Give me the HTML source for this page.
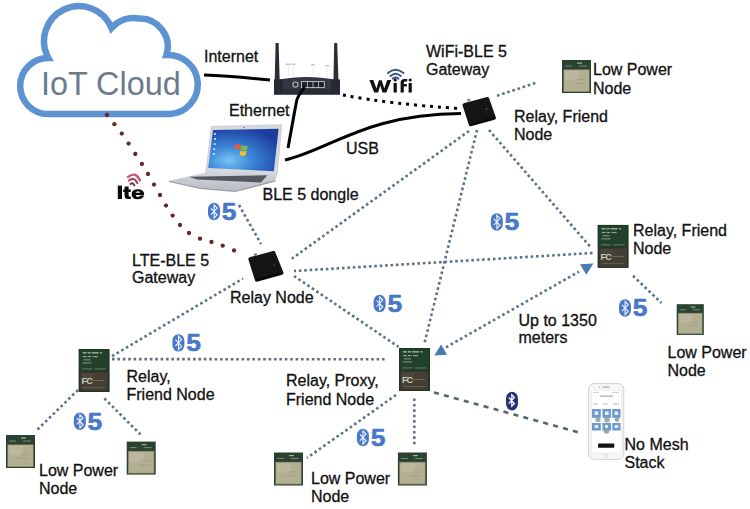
<!DOCTYPE html>
<html><head><meta charset="utf-8">
<style>
html,body{margin:0;padding:0;background:#fff;width:750px;height:509px;overflow:hidden}
svg{position:absolute;left:0;top:0;display:block}
text{font-family:"Liberation Sans",sans-serif}
.t{font-size:16px;fill:#111;stroke:#111;stroke-width:0.3}
</style></head><body>
<svg width="750" height="509" viewBox="0 0 750 509">
<!-- Cloud -->
<path d="M48.4 58 A35 35 0 1 1 111.5 28 A30 30 0 0 1 139 18.5 A28 28 0 0 1 166.4 55 A28 28 0 1 1 170 114 L48 114 A28 28 0 0 1 48.4 58 Z" fill="#fff" stroke="#5e93d2" stroke-width="6.5" stroke-linejoin="miter"/>
<text x="40.9" y="95.2" font-size="32.4" fill="#6c7b8a">IoT Cloud</text>

<!-- red dotted LTE line -->
<g fill="#652626"><circle cx="107" cy="115" r="2.15"/><circle cx="114.4" cy="124.2" r="2.15"/><circle cx="121.8" cy="133.6" r="2.15"/><circle cx="128.6" cy="143.6" r="2.15"/><circle cx="135.3" cy="154" r="2.15"/><circle cx="141.9" cy="164" r="2.15"/><circle cx="148" cy="174" r="2.15"/><circle cx="154" cy="184.6" r="2.15"/><circle cx="160" cy="195" r="2.15"/><circle cx="166" cy="205.6" r="2.15"/><circle cx="172.6" cy="215.6" r="2.15"/><circle cx="180" cy="225" r="2.15"/><circle cx="189" cy="233" r="2.15"/><circle cx="200" cy="238.7" r="2.15"/><circle cx="211.5" cy="242" r="2.15"/><circle cx="222.7" cy="245.7" r="2.15"/><circle cx="234" cy="250.4" r="2.15"/></g>

<!-- black cables -->
<path d="M204 75 Q230 76 270 80" fill="none" stroke="#000" stroke-width="3"/>
<path d="M285 160 C330 150 365 114 461 113.5" fill="none" stroke="#000" stroke-width="3"/>
<path d="M343 95 Q390 104 459 108.5" fill="none" stroke="#000" stroke-width="3" stroke-dasharray="3 5"/>

<!-- blue dotted lines -->
<g fill="none" stroke="#5a7389" stroke-width="2.6" stroke-dasharray="2.6 2.8">
  <path d="M497 95.8 L536 82.8"/>
  <path d="M469 131 L290 260"/>
  <path d="M477 130 L424 345"/>
  <path d="M489 130 L590.3 246.8"/>
  <path d="M592.5 253 L294 271"/>
  <path d="M239 205 L261 244"/>
  <path d="M294 276 L398.5 346.8"/>
  <path d="M112 356.2 L243 278.5"/>
  <path d="M112 359.1 L385 359.3"/>
  <path d="M633 275.8 L661.5 303"/>
  <path d="M446 347.3 L579 271.6"/>
  <path d="M78 390 L37 430"/>
  <path d="M104.4 398.4 L140.4 434.4"/>
  <path d="M396 395 L307 458"/>
  <path d="M414.3 398.5 L414.3 444.5"/>
</g>
<path d="M434 392.4 L583 433.6" fill="none" stroke="#536474" stroke-width="2.6" stroke-dasharray="5 5.3"/>
<polygon points="580,264.2 593.4,263.5 586.3,274.8" fill="#4a7ab0"/>
<polygon points="434.2,355.5 441.2,344.5 447.1,354.8" fill="#4a7ab0"/>

<!-- Router -->
<g>
  <polygon points="275.6,43 278.6,43 279.8,84 274.6,84" fill="#2b2d38"/>
  <polygon points="334.2,43 337.2,43 338.6,84 333.4,84" fill="#2b2d38"/>
  <g stroke="#cfd0cc" stroke-width="0.5" fill="none"><path d="M288.5 67 V76 M293 67 V76 M313 67 V76 M327 68 V76"/></g>
  <g fill="#c8c8c4"><rect x="286" y="63.5" width="5" height="1.6"/><rect x="292" y="63.5" width="3.5" height="1.6"/><rect x="311" y="64" width="4" height="1.6"/><rect x="325" y="65" width="4.5" height="1.4"/></g>
  <path d="M274 80.5 Q306 73.5 340 80.5 L340 94.6 L274 94.6 Z" fill="#343644"/>
  <rect x="274" y="79.5" width="9" height="15.1" fill="#262833"/>
  <rect x="331" y="79.5" width="9" height="15.1" fill="#262833"/>
  <rect x="283" y="89" width="48" height="5.6" fill="#2a2c37"/>
  <circle cx="295.5" cy="84.6" r="2.6" fill="#30323c" stroke="#b8bcc4" stroke-width="1.1"/>
  <rect x="301.5" y="81.6" width="22.8" height="6" fill="#20222a" stroke="#c4c8ce" stroke-width="0.9"/>
  <g fill="#c4c8ce"><rect x="307" y="81.6" width="0.8" height="6"/><rect x="312.6" y="81.6" width="0.8" height="6"/><rect x="318.2" y="81.6" width="0.8" height="6"/></g>
</g>

<path d="M304.5 87 L298.8 95.5 Q296.3 99.5 295.8 105 L288 148" fill="none" stroke="#000" stroke-width="3"/>
<!-- Wifi logo -->
<g fill="none" stroke="#3a5684" stroke-width="2" stroke-linecap="round">
  <path d="M388 73 Q395.5 66.5 403.5 73"/>
  <path d="M390.5 76 Q395.5 71.5 400.8 76"/>
  <path d="M392.8 78.6 Q395.5 76.3 398.4 78.6"/>
</g>
<g fill="#111">
  <path d="M369.4 80 L373.3 80 L376.4 88.6 L378.9 80.3 L381.7 80.3 L384.2 88.6 L387.3 80 L391.2 80 L386.4 92.5 L382.5 92.5 L380.3 85.5 L378.1 92.5 L374.2 92.5 Z"/>
  <rect x="393.6" y="83" width="3.2" height="9.5"/>
  <circle cx="395.2" cy="80" r="1.6"/>
  <path d="M400.6 92.5 L400.6 82.5 Q400.6 79 404.6 79 L407.2 79 L407.2 81.6 L405.2 81.6 Q403.8 81.6 403.8 83 L403.8 84 L406.8 84 L406.8 86.4 L403.8 86.4 L403.8 92.5 Z"/>
  <rect x="408.6" y="83" width="3.2" height="9.5"/>
  <circle cx="410.2" cy="80" r="1.6"/>
</g>

<!-- Laptop -->
<g>
  <defs>
    <radialGradient id="scr" cx="0.3" cy="0.75" r="0.8">
      <stop offset="0" stop-color="#78c4f2"/>
      <stop offset="0.4" stop-color="#3b86d8"/>
      <stop offset="1" stop-color="#1d3e9e"/>
    </radialGradient>
    <linearGradient id="base" x1="0" y1="0" x2="0" y2="1">
      <stop offset="0" stop-color="#d2d5db"/>
      <stop offset="1" stop-color="#b9bcc3"/>
    </linearGradient>
  </defs>
  <polygon points="211.4,126.4 281.8,124.8 277,175.2 205.8,172.8" fill="#d5d8de" stroke="#b8bcc4" stroke-width="0.6"/>
  <polygon points="213,130 278.6,128.8 273.8,171.2 208.2,168" fill="url(#scr)"/>
  <circle cx="244" cy="127.6" r="0.7" fill="#333"/>
  <g transform="translate(241,149.6)">
    <path d="M-6 -5 Q-3 -6 0 -4.5 L-1 0 Q-4 -1.5 -7 -0.5 Z" fill="#e8583a"/>
    <path d="M0.6 -4.3 Q3.5 -3 6.8 -4.2 L5.8 0.3 Q3 1.2 -0.4 0 Z" fill="#7cc040"/>
    <path d="M-7.2 0.3 Q-4.2 -0.6 -1.2 0.9 L-2.2 5.2 Q-5 3.8 -8.2 4.8 Z" fill="#3aa0e8"/>
    <path d="M-0.6 1 Q2.6 2.2 5.6 1 L4.6 5.6 Q1.6 6.8 -1.6 5.4 Z" fill="#f4c020"/>
  </g>
  <polygon points="169,180.8 205.8,172.8 277,175.2 275.4,180 235.4,190.4 200,187.5" fill="url(#base)"/>
  <polygon points="189,176.8 267.4,175.2 261,182.6 197,179.5" fill="#55585f"/>
  <g fill="#d8e8f8" opacity="0.8"><rect x="214" y="133" width="2" height="2"/><rect x="214" y="138" width="2" height="2"/><rect x="213.6" y="143" width="2" height="2"/><rect x="213.2" y="148" width="2" height="2"/><rect x="212.8" y="153" width="2" height="2"/></g>
  <polygon points="169,180.8 200,187.5 235.4,190.4 275.4,180 275.4,181.6 235.4,192 200,189 169,182" fill="#9a9ea6"/>
</g>

<!-- Lte logo -->
<g fill="none" stroke-linecap="round">
  <path d="M128 177 Q135.5 170.8 140 180.5" stroke="#c45a78" stroke-width="2.4"/>
  <path d="M129 180.5 Q134.2 176.3 137.3 183" stroke="#a8485f" stroke-width="2.2"/>
  <path d="M130.5 184 Q133 182 134.4 185.4" stroke="#7a3044" stroke-width="2"/>
</g>
<g fill="#0a0a0a">
  <rect x="117.8" y="185.6" width="4.2" height="13.4"/>
  <path d="M124.6 186.5 L128.6 186.5 L128.6 189.5 L130.8 189.5 L130.8 192 L128.6 192 L128.6 195.6 Q128.6 196.6 129.6 196.6 L130.8 196.6 L130.8 199 L128 199 Q124.6 199 124.6 196 L124.6 192 L123.2 192 L123.2 189.5 L124.6 189.5 Z"/>
  <path d="M144.2 195.6 Q143 199.3 138 199.3 Q131.6 199.3 131.6 194.2 Q131.6 189.2 137.8 189.2 Q144.4 189.2 144.2 195 L135.6 195 Q136 197 138 197 Q139.6 197 140.3 195.6 Z M135.6 192.8 L140.2 192.8 Q140 191.3 137.9 191.3 Q136 191.3 135.6 192.8 Z" fill-rule="evenodd"/>
</g>

<!-- boxes -->
<g><polygon points="464.2,105 487.5,98.7 494.3,118 470.5,124.6" fill="#151515" stroke="#151515" stroke-width="3.4" stroke-linejoin="round"/><path d="M470.5 124.6 L494.3 118" stroke="#080808" stroke-width="2" fill="none"/>
<rect x="467.2" y="99" width="3" height="2.4" fill="#9a9080" transform="rotate(-15 468.5 100)"/><circle cx="486.5" cy="109" r="0.8" fill="#777"/></g>
<g><polygon points="250,259 273.6,252.6 281.8,273 256.6,280" fill="#151515" stroke="#151515" stroke-width="3.4" stroke-linejoin="round"/><path d="M256.6 280 L281.8 273" stroke="#080808" stroke-width="2" fill="none"/>
<rect x="254" y="253.5" width="3" height="2.6" fill="#8a8070" transform="rotate(-14 255 255)"/><circle cx="274" cy="265" r="0.7" fill="#666"/></g>

<!-- modules -->
<g transform="translate(562,60)">
    <rect x="0" y="0" width="29" height="33" fill="#2a4230"/>
    <rect x="1.3" y="9.3" width="26.4" height="22.7" fill="#7d7a62"/>
    <rect x="2" y="10" width="25" height="21.3" fill="#b3af93"/>
    <rect x="3" y="11" width="14" height="9" fill="#bbb79c"/>
    <rect x="14" y="19" width="9" height="0.8" fill="#a29c80"/>
    <rect x="12" y="23" width="11" height="0.8" fill="#a29c80"/>
    <rect x="15" y="2.5" width="5" height="1.2" fill="#a6b4a8"/>
    <rect x="3" y="5.6" width="7" height="0.9" fill="#7f9484"/>
    <rect x="17" y="5.6" width="8" height="0.9" fill="#7f9484"/>
  </g>
<g transform="translate(676.7,304.2) scale(0.935,0.93)">
    <rect x="0" y="0" width="29" height="33" fill="#2a4230"/>
    <rect x="1.3" y="9.3" width="26.4" height="22.7" fill="#7d7a62"/>
    <rect x="2" y="10" width="25" height="21.3" fill="#b3af93"/>
    <rect x="3" y="11" width="14" height="9" fill="#bbb79c"/>
    <rect x="14" y="19" width="9" height="0.8" fill="#a29c80"/>
    <rect x="12" y="23" width="11" height="0.8" fill="#a29c80"/>
    <rect x="15" y="2.5" width="5" height="1.2" fill="#a6b4a8"/>
    <rect x="3" y="5.6" width="7" height="0.9" fill="#7f9484"/>
    <rect x="17" y="5.6" width="8" height="0.9" fill="#7f9484"/>
  </g>
<g transform="translate(6,435)">
    <rect x="0" y="0" width="29" height="33" fill="#2a4230"/>
    <rect x="1.3" y="9.3" width="26.4" height="22.7" fill="#7d7a62"/>
    <rect x="2" y="10" width="25" height="21.3" fill="#b3af93"/>
    <rect x="3" y="11" width="14" height="9" fill="#bbb79c"/>
    <rect x="14" y="19" width="9" height="0.8" fill="#a29c80"/>
    <rect x="12" y="23" width="11" height="0.8" fill="#a29c80"/>
    <rect x="15" y="2.5" width="5" height="1.2" fill="#a6b4a8"/>
    <rect x="3" y="5.6" width="7" height="0.9" fill="#7f9484"/>
    <rect x="17" y="5.6" width="8" height="0.9" fill="#7f9484"/>
  </g>
<g transform="translate(126.7,441.6)">
    <rect x="0" y="0" width="29" height="33" fill="#2a4230"/>
    <rect x="1.3" y="9.3" width="26.4" height="22.7" fill="#7d7a62"/>
    <rect x="2" y="10" width="25" height="21.3" fill="#b3af93"/>
    <rect x="3" y="11" width="14" height="9" fill="#bbb79c"/>
    <rect x="14" y="19" width="9" height="0.8" fill="#a29c80"/>
    <rect x="12" y="23" width="11" height="0.8" fill="#a29c80"/>
    <rect x="15" y="2.5" width="5" height="1.2" fill="#a6b4a8"/>
    <rect x="3" y="5.6" width="7" height="0.9" fill="#7f9484"/>
    <rect x="17" y="5.6" width="8" height="0.9" fill="#7f9484"/>
  </g>
<g transform="translate(274,452.5)">
    <rect x="0" y="0" width="29" height="33" fill="#2a4230"/>
    <rect x="1.3" y="9.3" width="26.4" height="22.7" fill="#7d7a62"/>
    <rect x="2" y="10" width="25" height="21.3" fill="#b3af93"/>
    <rect x="3" y="11" width="14" height="9" fill="#bbb79c"/>
    <rect x="14" y="19" width="9" height="0.8" fill="#a29c80"/>
    <rect x="12" y="23" width="11" height="0.8" fill="#a29c80"/>
    <rect x="15" y="2.5" width="5" height="1.2" fill="#a6b4a8"/>
    <rect x="3" y="5.6" width="7" height="0.9" fill="#7f9484"/>
    <rect x="17" y="5.6" width="8" height="0.9" fill="#7f9484"/>
  </g>
<g transform="translate(397.9,452.5)">
    <rect x="0" y="0" width="29" height="33" fill="#2a4230"/>
    <rect x="1.3" y="9.3" width="26.4" height="22.7" fill="#7d7a62"/>
    <rect x="2" y="10" width="25" height="21.3" fill="#b3af93"/>
    <rect x="3" y="11" width="14" height="9" fill="#bbb79c"/>
    <rect x="14" y="19" width="9" height="0.8" fill="#a29c80"/>
    <rect x="12" y="23" width="11" height="0.8" fill="#a29c80"/>
    <rect x="15" y="2.5" width="5" height="1.2" fill="#a6b4a8"/>
    <rect x="3" y="5.6" width="7" height="0.9" fill="#7f9484"/>
    <rect x="17" y="5.6" width="8" height="0.9" fill="#7f9484"/>
  </g>
<g transform="translate(597.6,224.9)">
    <rect x="0" y="0" width="31" height="43" fill="#1c3624"/>
    <rect x="1" y="1" width="29" height="21" fill="#21412b"/>
    <rect x="4" y="3.2" width="4" height="1.3" fill="#a9bbaa"/><rect x="9" y="3.2" width="3" height="1.3" fill="#a9bbaa"/><rect x="13" y="3.2" width="7" height="1.3" fill="#a9bbaa"/><rect x="21.5" y="3.2" width="2" height="1.3" fill="#a9bbaa"/>
    <rect x="4" y="7" width="4" height="1.2" fill="#92a696"/><rect x="9" y="7" width="3.5" height="1.2" fill="#92a696"/><rect x="14" y="7" width="5" height="1.2" fill="#92a696"/>
    <rect x="5" y="10.3" width="7" height="1.1" fill="#7f9484"/>
    <rect x="4" y="13.4" width="9" height="1.1" fill="#7f9484"/>
    <rect x="3.5" y="19.5" width="10" height="0.9" fill="#6c8070"/><rect x="16" y="19.5" width="11" height="0.9" fill="#6c8070"/>
    <rect x="1" y="22.5" width="29" height="20" fill="#35322a"/>
    <rect x="2" y="23.5" width="27" height="18" fill="#443f35"/>
    <rect x="3" y="24.5" width="12" height="8" fill="#4c473c"/>
    <text x="3" y="35" font-size="9" font-weight="bold" fill="#cdc8b8" font-family="Liberation Sans" letter-spacing="-0.9">FC</text>
    <rect x="14" y="31" width="12" height="1" fill="#6e695c"/>
    <rect x="4" y="38" width="22" height="1" fill="#625d51"/>
  </g>
<g transform="translate(78.6,349)">
    <rect x="0" y="0" width="31" height="43" fill="#1c3624"/>
    <rect x="1" y="1" width="29" height="21" fill="#21412b"/>
    <rect x="4" y="3.2" width="4" height="1.3" fill="#a9bbaa"/><rect x="9" y="3.2" width="3" height="1.3" fill="#a9bbaa"/><rect x="13" y="3.2" width="7" height="1.3" fill="#a9bbaa"/><rect x="21.5" y="3.2" width="2" height="1.3" fill="#a9bbaa"/>
    <rect x="4" y="7" width="4" height="1.2" fill="#92a696"/><rect x="9" y="7" width="3.5" height="1.2" fill="#92a696"/><rect x="14" y="7" width="5" height="1.2" fill="#92a696"/>
    <rect x="5" y="10.3" width="7" height="1.1" fill="#7f9484"/>
    <rect x="4" y="13.4" width="9" height="1.1" fill="#7f9484"/>
    <rect x="3.5" y="19.5" width="10" height="0.9" fill="#6c8070"/><rect x="16" y="19.5" width="11" height="0.9" fill="#6c8070"/>
    <rect x="1" y="22.5" width="29" height="20" fill="#35322a"/>
    <rect x="2" y="23.5" width="27" height="18" fill="#443f35"/>
    <rect x="3" y="24.5" width="12" height="8" fill="#4c473c"/>
    <text x="3" y="35" font-size="9" font-weight="bold" fill="#cdc8b8" font-family="Liberation Sans" letter-spacing="-0.9">FC</text>
    <rect x="14" y="31" width="12" height="1" fill="#6e695c"/>
    <rect x="4" y="38" width="22" height="1" fill="#625d51"/>
  </g>
<g transform="translate(399,348)">
    <rect x="0" y="0" width="31" height="43" fill="#1c3624"/>
    <rect x="1" y="1" width="29" height="21" fill="#21412b"/>
    <rect x="4" y="3.2" width="4" height="1.3" fill="#a9bbaa"/><rect x="9" y="3.2" width="3" height="1.3" fill="#a9bbaa"/><rect x="13" y="3.2" width="7" height="1.3" fill="#a9bbaa"/><rect x="21.5" y="3.2" width="2" height="1.3" fill="#a9bbaa"/>
    <rect x="4" y="7" width="4" height="1.2" fill="#92a696"/><rect x="9" y="7" width="3.5" height="1.2" fill="#92a696"/><rect x="14" y="7" width="5" height="1.2" fill="#92a696"/>
    <rect x="5" y="10.3" width="7" height="1.1" fill="#7f9484"/>
    <rect x="4" y="13.4" width="9" height="1.1" fill="#7f9484"/>
    <rect x="3.5" y="19.5" width="10" height="0.9" fill="#6c8070"/><rect x="16" y="19.5" width="11" height="0.9" fill="#6c8070"/>
    <rect x="1" y="22.5" width="29" height="20" fill="#35322a"/>
    <rect x="2" y="23.5" width="27" height="18" fill="#443f35"/>
    <rect x="3" y="24.5" width="12" height="8" fill="#4c473c"/>
    <text x="3" y="35" font-size="9" font-weight="bold" fill="#cdc8b8" font-family="Liberation Sans" letter-spacing="-0.9">FC</text>
    <rect x="14" y="31" width="12" height="1" fill="#6e695c"/>
    <rect x="4" y="38" width="22" height="1" fill="#625d51"/>
  </g>

<!-- phone -->
<g>
  <rect x="588.6" y="383.6" width="35.2" height="75.8" rx="5.5" fill="#f6f6f6" stroke="#d2d2d2" stroke-width="1"/>
  <rect x="591.8" y="390.5" width="29.8" height="62.5" fill="#fff" stroke="#e2e2e2" stroke-width="0.5"/>
  <rect x="602.5" y="386.6" width="7" height="1" fill="#9a9a9a"/>
  <circle cx="599.5" cy="387.1" r="0.7" fill="#9a9a9a"/>
  <rect x="600" y="395.5" width="13" height="1.2" fill="#a8a8a8"/>
  <rect x="593" y="392" width="6" height="0.8" fill="#c8c8c8"/><rect x="612" y="392" width="7" height="0.8" fill="#c8c8c8"/>
  <rect x="593" y="403.5" width="5" height="0.9" fill="#b0b0b0"/><rect x="603" y="403.5" width="5" height="0.9" fill="#b0b0b0"/><rect x="613" y="403.5" width="6" height="0.9" fill="#b0b0b0"/>
  <g fill="#6b9ad0">
    <rect x="592" y="409" width="8.8" height="8.8"/><rect x="602.4" y="409" width="8.6" height="8.8"/><rect x="612.2" y="409" width="8.3" height="8.8"/>
    <rect x="592" y="423" width="8.8" height="7.5"/><rect x="602.4" y="423" width="8.6" height="7.5"/><rect x="612.2" y="423" width="8.3" height="7.5"/>
  </g>
  <g fill="#e8eef6"><rect x="594.6" y="411.4" width="3.6" height="3.6"/><rect x="605" y="411.4" width="3.6" height="3.6"/><rect x="614.6" y="411.4" width="3.6" height="3.6"/>
  <rect x="594.6" y="425" width="3.6" height="3"/><rect x="605" y="425" width="3" height="3"/><rect x="614.6" y="425" width="3.6" height="3"/></g>
  <g fill="#8d9ca6" opacity="0.85"><circle cx="598" cy="419.5" r="2.6"/><circle cx="607" cy="419.8" r="2.8"/><circle cx="617" cy="419.5" r="2.4"/><circle cx="606.5" cy="431" r="2.8"/></g>
  <rect x="598" y="443.4" width="16.3" height="4.4" rx="1" fill="#111"/>
  <circle cx="606" cy="456" r="1.8" fill="none" stroke="#c8c8c8" stroke-width="0.6"/>
</g>
<!-- bluetooth navy -->
<g>
  <rect x="506" y="391.8" width="12" height="18.8" rx="6" ry="7" fill="#243275"/>
  <path d="M508.8 397.5 L514.4 403.5 L511.8 406.3 L511.8 394.8 L514.4 397.5 L508.8 403.5" fill="none" stroke="#fff" stroke-width="1.2"/>
</g>

<!-- BLE5 icons -->
<g transform="translate(207.4,203)">
    <rect x="0.6" y="-0.2" width="12" height="17.4" rx="6" ry="6.5" fill="#4a78c8"/>
    <path d="M3.6 5.3 L9.8 11.8 L6.7 15.2 L6.7 1.8 L9.8 5.1 L3.6 11.6" fill="none" stroke="#eef4ff" stroke-width="1.1"/>
    <text transform="translate(14.4,16.9) scale(1.1,1)" font-size="24" font-weight="bold" fill="#4a78c8" stroke="#4a78c8" stroke-width="0.6" stroke-linejoin="round" font-family="Liberation Sans">5</text>
  </g>
<g transform="translate(490.2,213.5)">
    <rect x="0.6" y="-0.2" width="12" height="17.4" rx="6" ry="6.5" fill="#4a78c8"/>
    <path d="M3.6 5.3 L9.8 11.8 L6.7 15.2 L6.7 1.8 L9.8 5.1 L3.6 11.6" fill="none" stroke="#eef4ff" stroke-width="1.1"/>
    <text transform="translate(14.4,16.9) scale(1.1,1)" font-size="24" font-weight="bold" fill="#4a78c8" stroke="#4a78c8" stroke-width="0.6" stroke-linejoin="round" font-family="Liberation Sans">5</text>
  </g>
<g transform="translate(373,295)">
    <rect x="0.6" y="-0.2" width="12" height="17.4" rx="6" ry="6.5" fill="#4a78c8"/>
    <path d="M3.6 5.3 L9.8 11.8 L6.7 15.2 L6.7 1.8 L9.8 5.1 L3.6 11.6" fill="none" stroke="#eef4ff" stroke-width="1.1"/>
    <text transform="translate(14.4,16.9) scale(1.1,1)" font-size="24" font-weight="bold" fill="#4a78c8" stroke="#4a78c8" stroke-width="0.6" stroke-linejoin="round" font-family="Liberation Sans">5</text>
  </g>
<g transform="translate(171.8,334.4)">
    <rect x="0.6" y="-0.2" width="12" height="17.4" rx="6" ry="6.5" fill="#4a78c8"/>
    <path d="M3.6 5.3 L9.8 11.8 L6.7 15.2 L6.7 1.8 L9.8 5.1 L3.6 11.6" fill="none" stroke="#eef4ff" stroke-width="1.1"/>
    <text transform="translate(14.4,16.9) scale(1.1,1)" font-size="24" font-weight="bold" fill="#4a78c8" stroke="#4a78c8" stroke-width="0.6" stroke-linejoin="round" font-family="Liberation Sans">5</text>
  </g>
<g transform="translate(618.4,299.5)">
    <rect x="0.6" y="-0.2" width="12" height="17.4" rx="6" ry="6.5" fill="#4a78c8"/>
    <path d="M3.6 5.3 L9.8 11.8 L6.7 15.2 L6.7 1.8 L9.8 5.1 L3.6 11.6" fill="none" stroke="#eef4ff" stroke-width="1.1"/>
    <text transform="translate(14.4,16.9) scale(1.1,1)" font-size="24" font-weight="bold" fill="#4a78c8" stroke="#4a78c8" stroke-width="0.6" stroke-linejoin="round" font-family="Liberation Sans">5</text>
  </g>
<g transform="translate(73.2,412.8)">
    <rect x="0.6" y="-0.2" width="12" height="17.4" rx="6" ry="6.5" fill="#4a78c8"/>
    <path d="M3.6 5.3 L9.8 11.8 L6.7 15.2 L6.7 1.8 L9.8 5.1 L3.6 11.6" fill="none" stroke="#eef4ff" stroke-width="1.1"/>
    <text transform="translate(14.4,16.9) scale(1.1,1)" font-size="24" font-weight="bold" fill="#4a78c8" stroke="#4a78c8" stroke-width="0.6" stroke-linejoin="round" font-family="Liberation Sans">5</text>
  </g>
<g transform="translate(356.3,429)">
    <rect x="0.6" y="-0.2" width="12" height="17.4" rx="6" ry="6.5" fill="#4a78c8"/>
    <path d="M3.6 5.3 L9.8 11.8 L6.7 15.2 L6.7 1.8 L9.8 5.1 L3.6 11.6" fill="none" stroke="#eef4ff" stroke-width="1.1"/>
    <text transform="translate(14.4,16.9) scale(1.1,1)" font-size="24" font-weight="bold" fill="#4a78c8" stroke="#4a78c8" stroke-width="0.6" stroke-linejoin="round" font-family="Liberation Sans">5</text>
  </g>

<!-- labels -->
<g class="t">
  <text x="204" y="62">Internet</text>
  <text x="229" y="115.5">Ethernet</text>
  <text x="346" y="154">USB</text>
  <text x="426" y="56.7">WiFi-BLE 5</text>
  <text x="426" y="74.5">Gateway</text>
  <text x="514" y="122">Relay, Friend</text>
  <text x="514" y="139.5">Node</text>
  <text x="593" y="75">Low Power</text>
  <text x="593" y="93.6">Node</text>
  <text x="262.5" y="200">BLE 5 dongle</text>
  <text x="132" y="265.5">LTE-BLE 5</text>
  <text x="132" y="283.3">Gateway</text>
  <text x="230" y="302.5">Relay Node</text>
  <text x="633" y="236">Relay, Friend</text>
  <text x="633" y="254.4">Node</text>
  <text x="518.5" y="326.3">Up to 1350</text>
  <text x="518.5" y="342.7">meters</text>
  <text x="667.5" y="357.7">Low Power</text>
  <text x="667.5" y="376">Node</text>
  <text x="126.5" y="382.2">Relay,</text>
  <text x="126.5" y="399.7">Friend Node</text>
  <text x="286" y="385.8">Relay, Proxy,</text>
  <text x="286" y="404.8">Friend Node</text>
  <text x="39" y="475.9">Low Power</text>
  <text x="39" y="493.7">Node</text>
  <text x="311" y="483.5">Low Power</text>
  <text x="311" y="502.1">Node</text>
  <text x="624.5" y="449.5">No Mesh</text>
  <text x="624.5" y="468.3">Stack</text>
</g>
</svg>
</body></html>
